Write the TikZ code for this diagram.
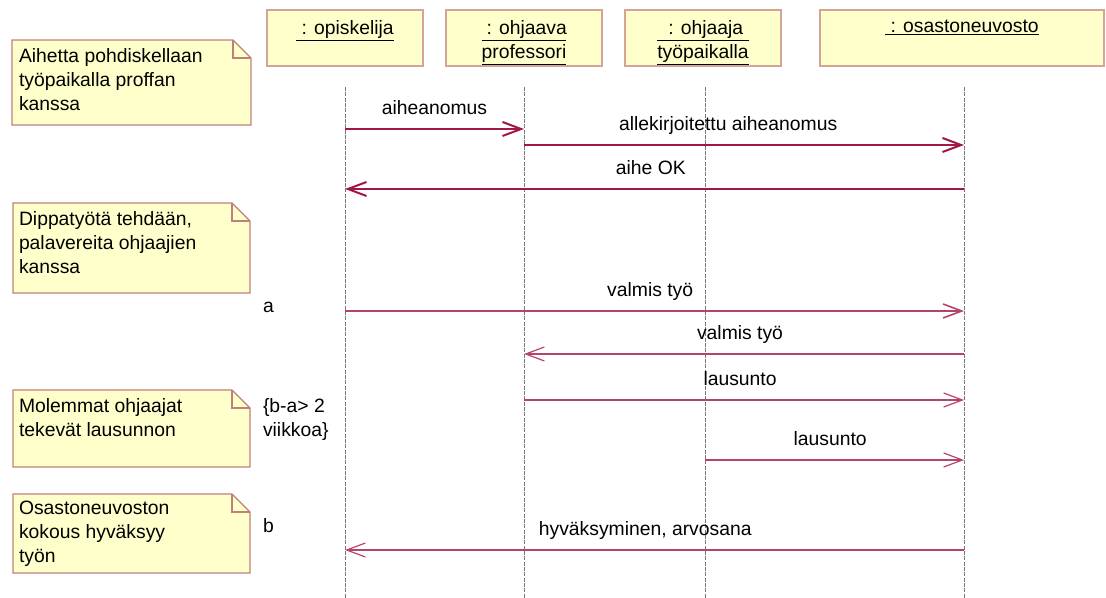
\documentclass[tikz,border=0pt]{standalone}
\usepackage{fontspec}
\setmainfont{Liberation Sans}
\usepackage{calc}
\usetikzlibrary{arrows.meta}

\definecolor{boxfill}{RGB}{255,255,204}
\definecolor{boxline}{RGB}{212,165,150}
\definecolor{noteline}{RGB}{192,128,122}
\definecolor{msgdark}{RGB}{163,22,72}
\definecolor{msglight}{RGB}{182,68,104}
\definecolor{lifegray}{RGB}{120,120,120}

% underlined header line, padded to the width of a reference text
\newcommand{\ulpad}[2]{\underline{\makebox[\widthof{#2}][c]{#1}}}

% note with a folded top-right corner: x1, y1, x2, y2
\newcommand{\dognote}[4]{%
  \draw[notebody] (#1,#2) -- (#3-18,#2) -- (#3,#2+18) -- (#3,#4) -- (#1,#4) -- cycle;
  \draw[notebody, fill=none] (#3-18,#2) -- (#3-18,#2+18) -- (#3,#2+18);
}

\begin{document}
\begin{tikzpicture}[x=0.75pt, y=-0.75pt,
  every node/.style={font=\fontsize{14.5pt}{18pt}\selectfont, inner sep=0pt, outer sep=0pt},
  objbox/.style={draw=boxline, fill=boxfill, line width=0.9pt, anchor=north west, minimum height=42pt},
  objtext/.style={anchor=north, align=center},
  notebody/.style={draw=noteline, fill=boxfill, line width=0.9pt, line join=miter},
  notetext/.style={anchor=north west, align=left},
  sidetext/.style={anchor=base west, align=left},
  lifeline/.style={draw=lifegray, line width=0.6pt, dash pattern=on 3pt off 1pt},
  msg/.style={draw=msgdark, line width=1.5pt, -{Straight Barb[length=14pt, width=10.5pt]}},
  msgthin/.style={draw=msglight, line width=0.9pt, -{Straight Barb[length=14pt, width=10.5pt]}},
  lbl/.style={anchor=base, yshift=11pt},
]
\useasboundingbox (0,0) rectangle (1106,598);

% object boxes
\node[objbox, minimum width=117pt] (opisbox) at (267,10) {};
\node[objbox, minimum width=117pt] (profbox) at (446,10) {};
\node[objbox, minimum width=117pt] (tyobox) at (625,10) {};
\node[objbox, minimum width=213pt] (osastobox) at (820,10) {};

\node[objtext] (opistxt) at (345,20) {\underline{\ : opiskelija}};
\node[objtext] (proftxt) at (524,20) {\ulpad{\ : ohjaava}{professori}\\\underline{professori}};
\node[objtext] (tyotxt) at (703,20) {\ulpad{\ : ohjaaja}{työpaikalla}\\\underline{työpaikalla}};
\node[objtext] (osastotxt) at (962,20) {\underline{\ : osastoneuvosto}};

% lifelines
\coordinate (L1) at (345,87);
\coordinate (L2) at (524,87);
\coordinate (L3) at (705,87);
\coordinate (L4) at (964,87);
\coordinate (bottom) at (0,598);
\foreach \l in {L1,L2,L3,L4}
  \draw[lifeline] (\l) -- (\l |- bottom);

% message rows
\coordinate (m1) at (0,129);
\coordinate (m2) at (0,145);
\coordinate (m3) at (0,189);
\coordinate (m4) at (0,311);
\coordinate (m5) at (0,354);
\coordinate (m6) at (0,400);
\coordinate (m7) at (0,460);
\coordinate (m8) at (0,550);

\draw[msg] (L1 |- m1) -- (L2 |- m1) node[lbl, pos=0.5] (t1) {aiheanomus};
\draw[msg] (L2 |- m2) -- (L4 |- m2) node[lbl, pos=0.464] (t2) {allekirjoitettu aiheanomus};
\draw[msg] (L4 |- m3) -- (L1 |- m3) node[lbl, pos=0.506] (t3) {aihe OK};
\draw[msgthin, line width=1.2pt] (L1 |- m4) -- (L4 |- m4) node[lbl, pos=0.493] (t4) {valmis työ};
\draw[msgthin] (L4 |- m5) -- (L2 |- m5) node[lbl, pos=0.509] (t5) {valmis työ};
\draw[msgthin] (L2 |- m6) -- (L4 |- m6) node[lbl, pos=0.491] (t6) {lausunto};
\draw[msgthin] (L3 |- m7) -- (L4 |- m7) node[lbl, pos=0.483] (t7) {lausunto};
\draw[msgthin] (L4 |- m8) -- (L1 |- m8) node[lbl, pos=0.515] (t8) {hyväksyminen, arvosana};

% notes
\dognote{12}{40}{251}{125}
\node[notetext] (note1) at (19,48) {Aihetta pohdiskellaan\\työpaikalla proffan\\kanssa};
\dognote{13}{203}{250}{293}
\node[notetext] (note2) at (19,211) {Dippatyötä tehdään,\\palavereita ohjaajien\\kanssa};
\dognote{13}{390}{250}{467}
\node[notetext] (note3) at (19,398) {Molemmat ohjaajat\\tekevät lausunnon};
\dognote{13}{494}{250}{573}
\node[notetext] (note4) at (19,501) {Osastoneuvoston\\kokous hyväksyy\\työn};

% time marks and constraint
\node[sidetext] (marka) at (263,313) {a};
\node[sidetext] (constr) at (263,436) {\{b-a> 2\\viikkoa\}};
\node[sidetext] (markb) at (263,532) {b};
\end{tikzpicture}
\end{document}
